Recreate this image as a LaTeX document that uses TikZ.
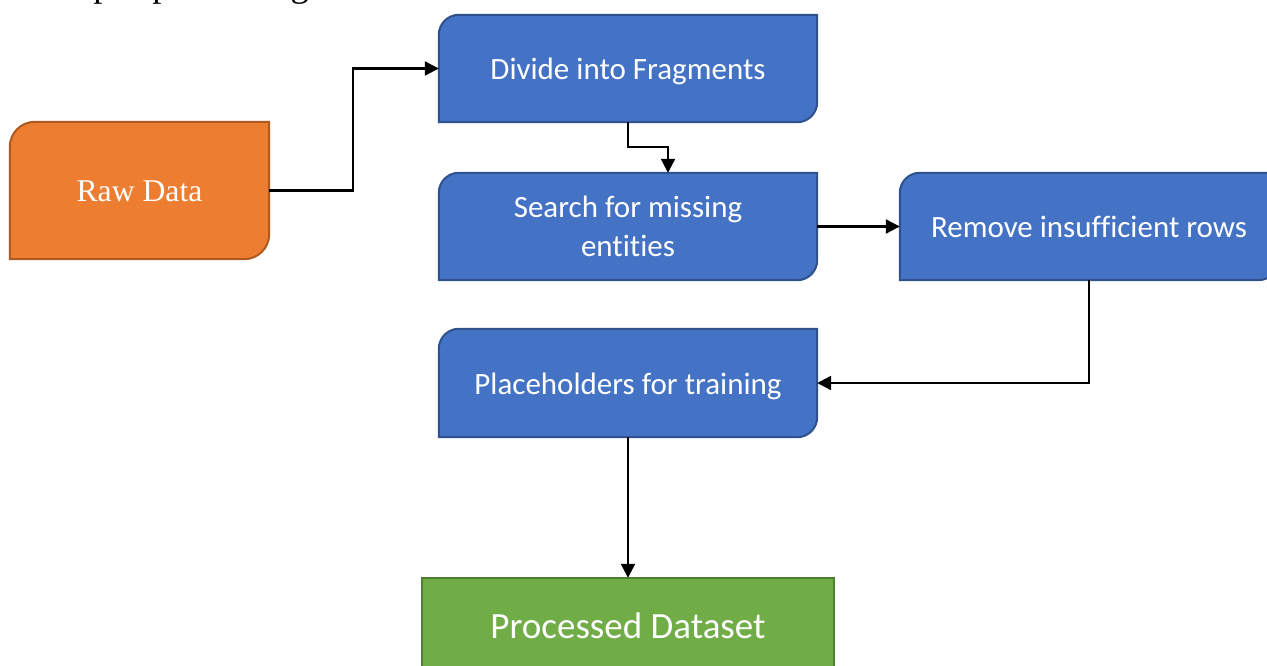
\documentclass[tikz,border=0pt]{standalone}
\usepackage{fontspec}
\setmainfont{Liberation Serif}
\newfontfamily\boxfont[Ligatures=NoCommon]{Carlito}
\usetikzlibrary{arrows.meta,backgrounds}

\definecolor{stepblue}{HTML}{4472C4}
\definecolor{stepblueline}{HTML}{2F528F}
\definecolor{rawfill}{HTML}{ED7D31}
\definecolor{rawline}{HTML}{AE5A21}
\definecolor{donefill}{HTML}{70AD47}
\definecolor{doneline}{HTML}{507E32}

% Outline with rounded top-left and bottom-right corners, drawn behind node #1
\newcommand\cutbox[4]{%
  \begin{scope}[on background layer]
    \clip (0,0) rectangle (1267,-666);
    \filldraw[fill=#3, draw=#4, line width=2pt]
      ([xshift=#2]#1.north west) -- (#1.north east)
      -- ([yshift=#2]#1.south east) arc[start angle=0, end angle=-90, radius=#2]
      -- (#1.south west)
      -- ([yshift=-#2]#1.north west) arc[start angle=180, end angle=90, radius=#2]
      -- cycle;
  \end{scope}}

\tikzset{
  stepbox/.style={inner sep=0pt, minimum width=378pt, minimum height=107pt,
    text=white, align=center, font=\boxfont\fontsize{31}{39}\selectfont},
  oneline/.style={text height=22pt, text depth=0pt},
  flow/.style={line width=2.2pt, -{Triangle[length=14pt,width=14pt]}},
}

\begin{document}
\begin{tikzpicture}[x=1pt, y=1pt]
  \useasboundingbox (0,0) rectangle (1267,-666);
  \clip (0,0) rectangle (1267,-666);

  % heading, cut by the upper edge
  \node[anchor=base west, inner sep=0pt, font=\fontsize{36.6}{44}\selectfont]
    (title) at (15,3) {Data pre-processing};

  % steps
  \node[inner sep=0pt, minimum width=259pt, minimum height=137pt, text=white,
        text height=22pt, text depth=0pt,
        font=\fontsize{31.7}{38}\selectfont] (raw) at (139.5,-190.5) {Raw Data};
  \node[stepbox, oneline] (divide) at (628,-68.5) {Divide into Fragments};
  \node[stepbox] (search) at (628,-226.5) {Search for missing\\entities};
  \node[stepbox, oneline] (remove) at (1089,-226.5) {Remove insufficient rows};
  \node[stepbox, oneline, minimum height=108pt] (place) at (628,-383) {Placeholders for training};
  \node[inner sep=0pt, minimum width=412pt, minimum height=96pt, text=white,
        text height=24pt, text depth=0pt,
        font=\boxfont\fontsize{37}{44}\selectfont] (proc) at (628,-626) {Processed Dataset};

  \cutbox{raw}{25pt}{rawfill}{rawline}
  \cutbox{divide}{20pt}{stepblue}{stepblueline}
  \cutbox{search}{20pt}{stepblue}{stepblueline}
  \cutbox{remove}{20pt}{stepblue}{stepblueline}
  \cutbox{place}{20pt}{stepblue}{stepblueline}
  \begin{scope}[on background layer]
    \clip (0,0) rectangle (1267,-666);
    \filldraw[fill=donefill, draw=doneline, line width=2pt]
      (proc.south west) rectangle (proc.north east);
  \end{scope}

  % connectors
  \draw[flow] (raw.east) -- ++(84,0) |- (divide.west);
  \draw[flow] (divide.south) -- ++(0,-25) -| ([xshift=40pt]search.north);
  \draw[flow] (search.east) -- (remove.west);
  \draw[flow] (remove.south) |- (place.east);
  \draw[flow] (place.south) -- (proc.north);
\end{tikzpicture}
\end{document}
